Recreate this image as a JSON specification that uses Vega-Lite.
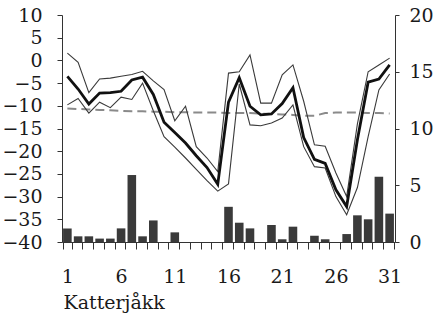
{
  "$schema": "https://vega.github.io/schema/vega-lite/v6.json",
  "width": 333,
  "height": 227,
  "autosize": {"type": "none"},
  "padding": {"left": 62, "top": 15, "right": 38, "bottom": 78},
  "background": "white",
  "config": {
    "view": {"stroke": null},
    "font": "DejaVu Serif",
    "axis": {
      "grid": false,
      "labelFont": "DejaVu Serif",
      "labelFontSize": 19,
      "labelColor": "#1a1a1a",
      "labelOverlap": false,
      "domainColor": "#333333",
      "tickColor": "#333333",
      "titleFont": "DejaVu Serif",
      "titleFontSize": 19,
      "titleFontWeight": "normal",
      "titleColor": "#1a1a1a"
    }
  },
  "data": {
    "values": [
      {"day": 1, "p": 1.2, "hi": 1.6, "mean": -3.5, "lo": -9.8, "norm": -10.6},
      {"day": 2, "p": 0.5, "hi": -0.4, "mean": -6.3, "lo": -8.4, "norm": -10.7},
      {"day": 3, "p": 0.5, "hi": -7.1, "mean": -9.6, "lo": -11.6, "norm": -10.8},
      {"day": 4, "p": 0.3, "hi": -4.1, "mean": -7.2, "lo": -9.2, "norm": -10.9},
      {"day": 5, "p": 0.3, "hi": -3.9, "mean": -7.1, "lo": -10.4, "norm": -11.0},
      {"day": 6, "p": 1.2, "hi": -3.5, "mean": -6.8, "lo": -8.1, "norm": -11.1},
      {"day": 7, "p": 5.9, "hi": -3.1, "mean": -4.3, "lo": -8.6, "norm": -11.2},
      {"day": 8, "p": 0.5, "hi": -2.4, "mean": -3.7, "lo": -5.0, "norm": -11.2},
      {"day": 9, "p": 1.9, "hi": -4.5, "mean": -7.5, "lo": -11.1, "norm": -11.3},
      {"day": 10, "p": 0, "hi": -6.4, "mean": -13.6, "lo": -16.8, "norm": -11.3},
      {"day": 11, "p": 0.85, "hi": -13.3, "mean": -15.9, "lo": -19.1, "norm": -11.4},
      {"day": 12, "p": 0, "hi": -10.1, "mean": -18.2, "lo": -21.5, "norm": -11.4},
      {"day": 13, "p": 0, "hi": -19.0, "mean": -21.0, "lo": -24.0, "norm": -11.5},
      {"day": 14, "p": 0, "hi": -21.5, "mean": -23.6, "lo": -26.5, "norm": -11.5},
      {"day": 15, "p": 0, "hi": -24.5, "mean": -27.3, "lo": -28.8, "norm": -11.5},
      {"day": 16, "p": 3.1, "hi": -2.8, "mean": -9.2, "lo": -27.2, "norm": -11.6},
      {"day": 17, "p": 1.7, "hi": -2.5, "mean": -3.8, "lo": -5.2, "norm": -11.6},
      {"day": 18, "p": 1.2, "hi": 1.2, "mean": -10.1, "lo": -14.2, "norm": -11.6},
      {"day": 19, "p": 0, "hi": -9.4, "mean": -12.0, "lo": -14.4, "norm": -11.7},
      {"day": 20, "p": 1.5, "hi": -9.4, "mean": -11.8, "lo": -13.8, "norm": -11.8},
      {"day": 21, "p": 0.24, "hi": -3.2, "mean": -9.5, "lo": -12.7, "norm": -11.9},
      {"day": 22, "p": 1.35, "hi": -1.0, "mean": -6.0, "lo": -9.8, "norm": -12.0},
      {"day": 23, "p": 0, "hi": -9.0, "mean": -17.0, "lo": -19.0, "norm": -12.2},
      {"day": 24, "p": 0.56, "hi": -18.6, "mean": -21.8, "lo": -23.4, "norm": -12.2},
      {"day": 25, "p": 0.24, "hi": -18.9, "mean": -22.7, "lo": -23.7, "norm": -11.6},
      {"day": 26, "p": 0, "hi": -24.8, "mean": -28.5, "lo": -30.0, "norm": -11.5},
      {"day": 27, "p": 0.7, "hi": -30.0, "mean": -32.2, "lo": -34.0, "norm": -11.5},
      {"day": 28, "p": 2.35, "hi": -14.0, "mean": -17.5, "lo": -28.0, "norm": -11.5},
      {"day": 29, "p": 2.0, "hi": -2.5, "mean": -4.8, "lo": -16.8, "norm": -11.6},
      {"day": 30, "p": 5.75, "hi": -1.0, "mean": -4.1, "lo": -6.5, "norm": -11.6},
      {"day": 31, "p": 2.5, "hi": 0.5, "mean": -1.0, "lo": -3.0, "norm": -11.7}
    ]
  },
  "encoding": {
    "x": {
      "field": "day",
      "type": "ordinal",
      "scale": {"paddingInner": 0.2, "paddingOuter": 0.1},
      "axis": {
        "labelAngle": 0,
        "tickBand": "extent",
        "tickSize": 7,
        "labelBaseline": "alphabetic",
        "labelPadding": 33,
        "labelExpr": "(datum.value - 1) % 5 == 0 ? datum.label : ''",
        "title": "Katterjåkk",
        "titleAnchor": "start",
        "titleAlign": "left",
        "titleX": 1,
        "titleY": 66,
        "titleBaseline": "alphabetic"
      }
    }
  },
  "layer": [
    {
      "mark": {"type": "bar", "color": "#3a3a3a"},
      "encoding": {
        "y": {
          "field": "p",
          "type": "quantitative",
          "scale": {"domain": [0, 20], "nice": false},
          "axis": {"orient": "right", "values": [0, 5, 10, 15, 20], "tickSize": 4, "labelPadding": 10, "title": null}
        }
      }
    },
    {
      "layer": [
        {
          "mark": {"type": "line", "color": "#8a8a8a", "strokeWidth": 2, "strokeDash": [9, 5]},
          "encoding": {
            "y": {
              "field": "norm",
              "type": "quantitative",
              "scale": {"domain": [-40, 10], "nice": false},
              "axis": {"orient": "left", "values": [-40, -35, -30, -25, -20, -15, -10, -5, 0, 5, 10], "tickSize": 5, "labelPadding": 15, "labelOverlap": false, "title": null}
            }
          }
        },
        {
          "mark": {"type": "line", "color": "#3a3a3a", "strokeWidth": 1.1},
          "encoding": {"y": {"field": "hi", "type": "quantitative", "scale": {"domain": [-40, 10], "nice": false}, "axis": {"orient": "left", "values": [-40, -35, -30, -25, -20, -15, -10, -5, 0, 5, 10], "tickSize": 5, "labelPadding": 15, "labelOverlap": false, "title": null}}}
        },
        {
          "mark": {"type": "line", "color": "#3a3a3a", "strokeWidth": 1.1},
          "encoding": {"y": {"field": "lo", "type": "quantitative", "scale": {"domain": [-40, 10], "nice": false}, "axis": {"orient": "left", "values": [-40, -35, -30, -25, -20, -15, -10, -5, 0, 5, 10], "tickSize": 5, "labelPadding": 15, "labelOverlap": false, "title": null}}}
        },
        {
          "mark": {"type": "line", "color": "#111111", "strokeWidth": 2.8},
          "encoding": {"y": {"field": "mean", "type": "quantitative", "scale": {"domain": [-40, 10], "nice": false}, "axis": {"orient": "left", "values": [-40, -35, -30, -25, -20, -15, -10, -5, 0, 5, 10], "tickSize": 5, "labelPadding": 15, "labelOverlap": false, "title": null}}}
        }
      ]
    }
  ],
  "resolve": {"scale": {"y": "independent"}}
}
